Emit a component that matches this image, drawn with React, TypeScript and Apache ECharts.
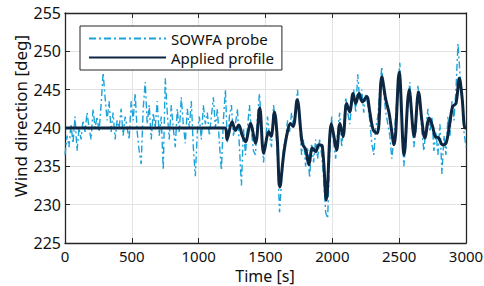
import React, { useEffect, useRef } from "react";
import * as echarts from "echarts";

const xTicks = [0, 500, 1000, 1500, 2000, 2500, 3000];
const yTicks = [225, 230, 235, 240, 245, 250, 255];
const xTitle = "Time [s]";
const yTitle = "Wind direction [deg]";

const appliedTime = [0, 1200, 1212, 1250, 1275, 1300, 1325, 1350, 1387, 1425, 1457, 1487, 1525, 1542, 1567, 1587, 1607, 1637, 1662, 1687, 1707, 1737, 1775, 1800, 1825, 1850, 1875, 1900, 1925, 1955, 1992, 2012, 2032, 2057, 2080, 2107, 2130, 2155, 2175, 2200, 2225, 2257, 2280, 2307, 2337, 2370, 2400, 2425, 2462, 2500, 2537, 2575, 2612, 2645, 2670, 2692, 2725, 2750, 2770, 2795, 2825, 2850, 2875, 2900, 2925, 2950, 2970, 2992, 3000];
const appliedValue = [240, 240, 238.5, 240.8, 239.7, 240.4, 239.1, 238.2, 240.6, 238.0, 242.6, 236.7, 239.5, 238.9, 242.1, 238.9, 232.3, 236.7, 239.3, 240.6, 240.2, 243.7, 238.0, 237.2, 235.2, 237.4, 236.9, 237.8, 237.6, 230.6, 240.6, 238.9, 237.1, 240.6, 238.9, 243.2, 242.1, 244.5, 243.2, 244.5, 243.4, 244.1, 242.1, 239.7, 239.3, 246.7, 243.7, 241.9, 237.8, 247.3, 236.5, 245.0, 238.9, 244.7, 241.0, 238.7, 241.3, 240.2, 238.9, 238.7, 237.8, 238.0, 240.2, 242.8, 243.2, 246.5, 244.1, 240.0, 240.0];

const probeStep = 15;
const probeValue = [
  236.5, 239.0, 237.5, 240.5, 238.0, 241.5, 237.0, 240.0, 238.5, 241.0,
  239.5, 242.0, 240.0, 238.5, 242.5, 240.0, 241.5, 239.5, 243.0, 247.2,
  244.0, 241.0, 243.5, 239.5, 242.0, 238.5, 241.0, 240.0, 242.5, 239.0,
  241.5, 240.0, 238.5, 243.5, 241.0, 244.5, 239.5, 237.0, 235.3, 242.5,
  246.0, 240.5, 243.0, 238.5, 242.0, 240.0, 243.5, 239.0, 241.5, 234.5,
  246.5, 242.0, 238.5, 243.0, 240.0, 237.5, 242.5, 239.5, 244.0, 240.5,
  238.0, 242.5, 240.0, 243.5, 237.5, 233.7, 239.5, 241.5, 238.5, 243.0,
  240.5, 242.0, 239.0, 241.5, 244.0, 240.0, 242.5, 238.0, 234.5, 241.0,
  245.0, 238.0, 241.5, 243.0, 239.0, 240.5, 242.5, 237.5, 232.5, 240.0,
  236.5, 240.0, 243.0, 239.5, 237.0, 236.5, 241.5, 244.5, 240.0, 235.5,
  238.0, 241.5, 239.0, 237.5, 243.0, 240.5, 236.0, 229.0, 233.0, 237.5,
  238.5, 241.0, 239.5, 242.0, 240.0, 242.5, 245.0, 240.5, 236.5, 238.5,
  235.0, 237.5, 233.5, 238.0, 235.5, 238.5, 236.0, 238.5, 236.5, 233.5,
  229.0, 228.2, 236.5, 241.5, 238.0, 236.0, 239.5, 242.0, 237.5, 240.0,
  244.0, 242.0, 240.5, 243.0, 245.0, 242.0, 247.0, 243.5, 245.0, 242.0,
  244.5, 243.0, 241.0, 238.0, 236.5, 240.0, 241.5, 245.0, 248.0, 244.5,
  242.0, 240.5, 239.0, 236.0, 238.5, 242.0, 245.5, 248.5, 241.0, 235.0,
  238.0, 243.0, 246.0, 241.5, 237.5, 240.0, 245.5, 243.0, 239.5, 237.0,
  240.0, 242.5, 239.5, 241.5, 237.0, 239.5, 236.5, 240.5, 234.0, 239.0,
  236.5, 241.5, 239.0, 243.5, 241.0, 245.0, 251.0, 247.0, 244.5, 239.5,
  237.5
];

const FONT = "Noto Sans";
const AXIS_COLOR = "#262626";

export default function App() {
  const ref = useRef<HTMLDivElement>(null);
  useEffect(() => {
    if (!ref.current) return;
    const chart = echarts.init(ref.current, undefined, { renderer: "svg" });
    const probeData = probeValue.map((v, i) => [i * probeStep, v]);
    const appliedData = appliedTime.map((t, i) => [t, appliedValue[i]]);
    const axisCommon = {
      type: "value",
      axisLine: { show: true, onZero: false, lineStyle: { color: AXIS_COLOR, width: 1.3 } },
      axisTick: { show: true, inside: true, length: 5, lineStyle: { color: AXIS_COLOR } },
    };
    const plain = (v: number) => String(v);
    chart.setOption({
      animation: false,
      backgroundColor: "#ffffff",
      grid: {
        left: 65,
        right: 18,
        top: 13,
        bottom: 43,
        containLabel: false,
        outerBoundsMode: "none",
      },
      xAxis: [
        {
          ...axisCommon,
          min: xTicks[0],
          max: xTicks[xTicks.length - 1],
          interval: 500,
          position: "bottom",
          axisLabel: { color: "#111", fontFamily: FONT, fontSize: 15, margin: 5, formatter: plain },
          splitLine: { show: true, lineStyle: { color: "#e3e3e3", width: 1 } },
        },
        {
          ...axisCommon,
          min: xTicks[0],
          max: xTicks[xTicks.length - 1],
          interval: 500,
          position: "top",
          axisLabel: { show: false },
          splitLine: { show: false },
        },
      ],
      yAxis: [
        {
          ...axisCommon,
          min: yTicks[0],
          max: yTicks[yTicks.length - 1],
          interval: 5,
          position: "left",
          axisLabel: { color: "#111", fontFamily: FONT, fontSize: 16, margin: 4, formatter: plain },
          splitLine: { show: true, lineStyle: { color: "#e3e3e3", width: 1 } },
        },
        {
          ...axisCommon,
          min: yTicks[0],
          max: yTicks[yTicks.length - 1],
          interval: 5,
          position: "right",
          axisLabel: { show: false },
          splitLine: { show: false },
        },
      ],
      legend: {
        orient: "vertical",
        left: 80,
        top: 26,
        itemWidth: 77,
        itemHeight: 14,
        itemGap: 4,
        padding: [5, 8, 5, 8],
        borderColor: AXIS_COLOR,
        borderWidth: 1,
        backgroundColor: "#ffffff",
        itemStyle: { opacity: 0 },
        textStyle: { color: "#111", fontFamily: FONT, fontSize: 15 },
        data: ["SOWFA probe", "Applied profile"],
      },
      graphic: [
        {
          type: "text",
          x: 20,
          y: 116,
          rotation: Math.PI / 2,
          style: {
            text: yTitle,
            fill: "#111",
            font: `17px "${FONT}"`,
            align: "center",
            verticalAlign: "middle",
          },
        },
        {
          type: "text",
          x: 265,
          y: 276,
          style: {
            text: xTitle,
            fill: "#111",
            font: `16px "${FONT}"`,
            align: "center",
            verticalAlign: "middle",
          },
        },
      ],
      series: [
        {
          name: "SOWFA probe",
          type: "line",
          data: probeData,
          showSymbol: false,
          symbol: "none",
          color: "#1ba3da",
          lineStyle: { color: "#1ba3da", width: 1.4, type: [7, 3, 2, 3] },
          z: 2,
        },
        {
          name: "Applied profile",
          type: "line",
          data: appliedData,
          showSymbol: false,
          symbol: "none",
          smooth: 0.35,
          color: "#0d2642",
          lineStyle: { color: "#0d2642", width: 3 },
          z: 3,
        },
      ],
    });
    return () => chart.dispose();
  }, []);
  return (
    <div
      ref={ref}
      style={{ position: "fixed", left: 0, top: 0, width: 484, height: 286 }}
    />
  );
}
